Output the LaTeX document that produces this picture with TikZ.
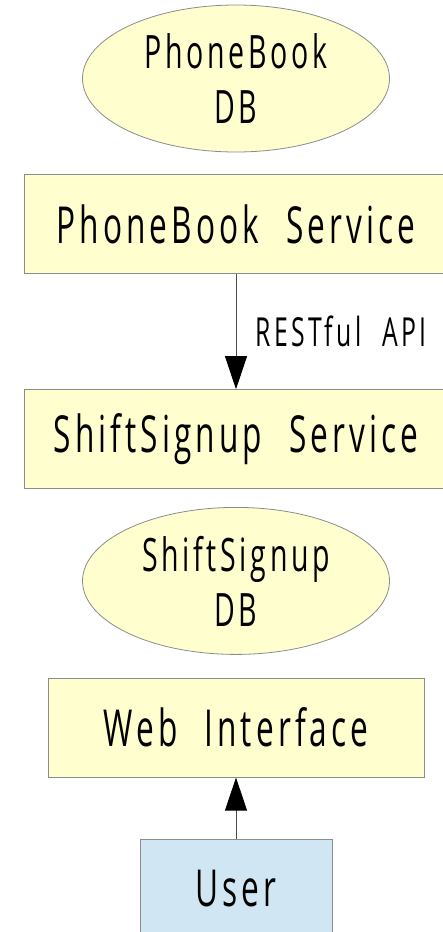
\documentclass[tikz,border=0pt]{standalone}
\usepackage{fontspec}
\setmainfont{Open Sans}[FakeStretch=0.62, LetterSpace=8, WordSpace=2.2]
\usepackage{tikz}
\usetikzlibrary{ positioning, arrows.meta, shapes.geometric }
\usepackage{xcolor}
\definecolor{note}{HTML}{FEFECE}
\definecolor{actor}{HTML}{D0E6F3}
\definecolor{frame}{HTML}{8C8C8C}

\begin{document}
\begin{tikzpicture}[x=1pt, y=1pt,
    every node/.style={font=\fontsize{51}{60}\selectfont, text=black},
    store/.style={ellipse, draw=frame, fill=note, line width=0.8pt,
      minimum width=307pt, minimum height=147pt, inner sep=0pt, align=center,
      font=\fontsize{46}{55}\selectfont},
    service/.style={rectangle, draw=frame, fill=note, line width=0.8pt,
      minimum height=99pt, inner sep=0pt},
    link/.style={draw=black!70, line width=0.8pt, -{Triangle[length=33pt, width=22pt, black]}}]
  \useasboundingbox (0,0) rectangle (442,-932);

  % phone book side
  \node[store] (pbdb) at (236,-78.5) {PhoneBook\\DB};
  \node[service, minimum width=424pt, below=22pt of pbdb] (pbsvc) {PhoneBook Service};

  % shift signup side
  \node[service, minimum width=424pt, below=115pt of pbsvc] (sssvc) {ShiftSignup Service};
  \node[store, below=18pt of sssvc] (ssdb) {ShiftSignup\\DB};

  % front end
  \node[service, minimum width=376pt, below=23pt of ssdb] (web) {Web Interface};
  \node[service, fill=actor, minimum width=192pt, minimum height=100pt, below=61pt of web] (user) {User};

  \draw[link] (pbsvc) -- node[right=16pt, font=\fontsize{40}{46}\selectfont] {RESTful API} (sssvc);
  \draw[link] (user) -- (web);
\end{tikzpicture}
\end{document}
